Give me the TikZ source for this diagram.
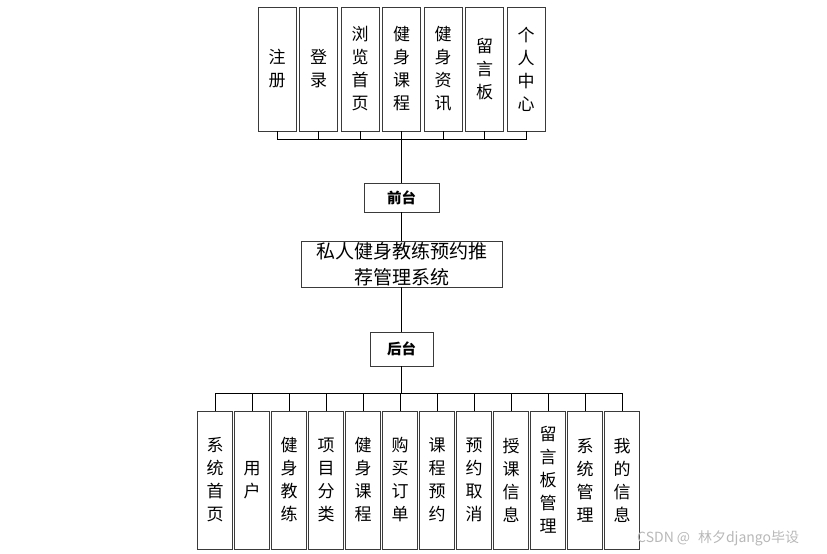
\documentclass[tikz,border=0pt]{standalone}
\usepackage{fontspec}
\newfontfamily\cjk{Noto Sans CJK SC}
\definecolor{boxline}{HTML}{3A3A3A}
\definecolor{markgray}{HTML}{B8B8B8}
\usetikzlibrary{positioning}
\tikzset{
	topbox/.style={draw=boxline, line width=0.9pt, minimum width=38pt, minimum height=124pt,
		inner sep=0pt, outer sep=0pt, align=center, font=\cjk\fontsize{17}{23}\selectfont},
	lowbox/.style={topbox, minimum width=35pt, minimum height=138pt},
	tagbox/.style={draw=boxline, line width=0.9pt, inner sep=0pt, align=center,
		font=\cjk\bfseries\fontsize{14.5}{17}\selectfont},
	link/.style={draw=black, line width=0.9pt}
}

\begin{document}
\begin{tikzpicture}[x=1pt, y=-1pt]
	\useasboundingbox (0,0) rectangle (827,554);
	% front end modules
	\node[topbox] (zc) at (277,69) {注\\册};
	\node[topbox, right=3.5pt of zc] (dl) {登\\录};
	\node[topbox, right=3.5pt of dl] (llsy) {浏\\览\\首\\页};
	\node[topbox, right=3.5pt of llsy] (jskc) {健\\身\\课\\程};
	\node[topbox, right=3.5pt of jskc] (jszx) {健\\身\\资\\讯};
	\node[topbox, right=3.5pt of jszx] (lyb) {留\\言\\板};
	\node[topbox, right=3.5pt of lyb] (grzx) {个\\人\\中\\心};
	\draw[link] (zc.south) -- ++(0,8) coordinate (tb) -| (grzx.south);
	\foreach \n in {dl, llsy, jszx, lyb}
		\draw[link] (\n.south) -- (\n.south |- tb);
	% centre column
	\node[tagbox, minimum width=75pt, minimum height=29pt] (qt) at (jskc.center |- 0,197.5) {前台};
	\node[draw=boxline, line width=0.9pt, minimum width=201pt, minimum height=46pt,
		inner sep=0pt, text width=190pt, align=center,
		font=\cjk\fontsize{19}{26}\selectfont] (sys) at (jskc.center |- 0,264) {私人健身教练预约推\\荐管理系统};
	\node[tagbox, minimum width=63pt, minimum height=34pt] (ht) at (jskc.center |- 0,349) {后台};
	\draw[link] (jskc.south) -- (qt.north);
	\draw[link] (qt.south) -- (sys.north);
	\draw[link] (sys.south) -- (ht.north);
	% back end modules
	\node[lowbox] (xtsy) at (215,480) {系\\统\\首\\页};
	\node[lowbox, right=2pt of xtsy] (yh) {用\\户};
	\node[lowbox, right=2pt of yh] (jsjl) {健\\身\\教\\练};
	\node[lowbox, right=2pt of jsjl] (xmfl) {项\\目\\分\\类};
	\node[lowbox, right=2pt of xmfl] (jskc2) {健\\身\\课\\程};
	\node[lowbox, right=2pt of jskc2] (gmdd) {购\\买\\订\\单};
	\node[lowbox, right=2pt of gmdd] (kcyy) {课\\程\\预\\约};
	\node[lowbox, right=2pt of kcyy] (yyqx) {预\\约\\取\\消};
	\node[lowbox, right=2pt of yyqx] (skxx) {授\\课\\信\\息};
	\node[lowbox, right=2pt of skxx] (lybgl) {留\\言\\板\\管\\理};
	\node[lowbox, right=2pt of lybgl] (xtgl) {系\\统\\管\\理};
	\node[lowbox, right=2pt of xtgl] (wdxx) {我\\的\\信\\息};
	\path (ht.south) ++(0,27) coordinate (hb);
	\draw[link] (ht.south) -- (hb);
	\draw[link] (xtsy.north) |- (hb) -| (wdxx.north);
	\foreach \n in {yh, jsjl, xmfl, jskc2, gmdd, kcyy, yyqx, skxx, lybgl, xtgl}
		\draw[link] (\n.north) -- (\n.north |- hb);
	% watermark
	\node[text=markgray, inner sep=0pt, anchor=west, font=\cjk\fontsize{14}{16}\selectfont] (mark) at (637,538) {CSDN @\,\, 林夕django毕设};
\end{tikzpicture}
\end{document}
